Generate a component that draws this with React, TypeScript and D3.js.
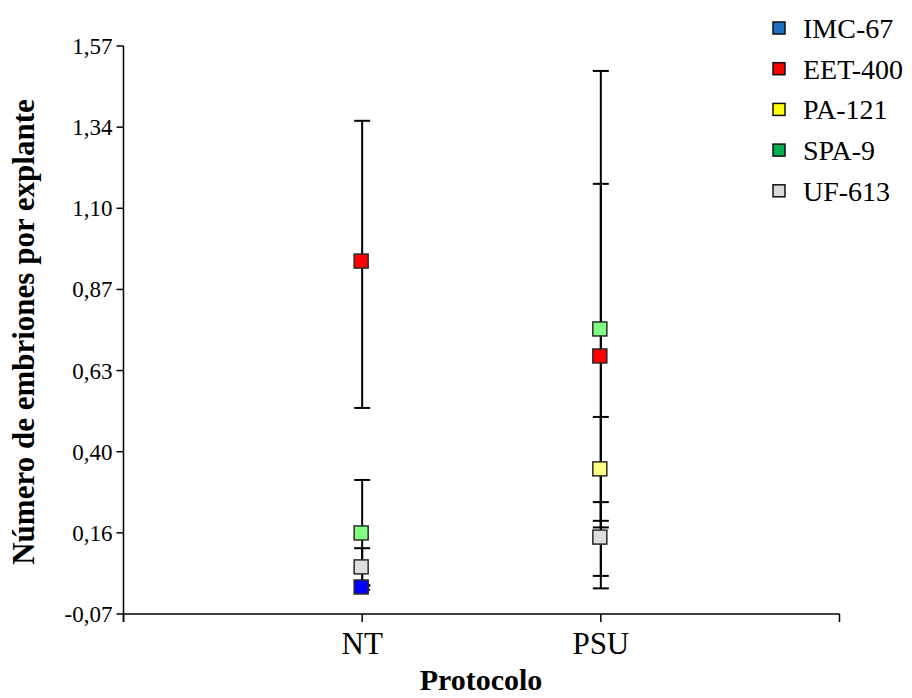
import React from "react";
import * as d3 from "d3";

const categories = ["NT", "PSU"];
const seriesNames = ["IMC-67", "EET-400", "PA-121", "SPA-9", "UF-613"];
const legendColors = ["#1f6fc0", "#ff0000", "#ffff00", "#00b050", "#d9d9d9"];
const markerColors = ["#0000ff", "#ff0000", "#ffff80", "#80ff80", "#dddddd"];

const ntMeans = [0.008, 0.949, null, 0.164, 0.066];
const ntLower = [0.0, 0.525, null, 0.011, 0.012];
const ntUpper = [0.014, 1.354, null, 0.317, 0.12];
const psuMeans = [null, 0.675, 0.349, 0.753, 0.152];
const psuLower = [null, 0.18, 0.199, 0.004, 0.04];
const psuUpper = [null, 1.172, 0.499, 1.498, 0.253];

const yDomain = [-0.07, 1.57];
const yTickCount = 7;

export default function App() {
  const W = 912, H = 698;
  const left = 123.5, right = 839.5, top = 46, bottom = 614;
  const x = d3.scaleLinear().domain([0, 3]).range([left, right]);
  const y = d3.scaleLinear().domain(yDomain).range([bottom, top]);
  const yTicks = d3.range(yTickCount + 1).map(
    (i) => yDomain[0] + ((yDomain[1] - yDomain[0]) * i) / yTickCount
  );
  const fmt = (v: number) => d3.format(".2f")(v).replace(".", ",").replace("−", "-");

  const groups = [
    { ci: 0, means: ntMeans, lo: ntLower, hi: ntUpper },
    { ci: 1, means: psuMeans, lo: psuLower, hi: psuUpper },
  ];
  const order = [1, 3, 2, 4, 0];
  const capW = 16, ms = 14;
  const font = "Liberation Serif, Times New Roman, Times, Tinos, DejaVu Serif, serif";

  return (
    <svg width={W} height={H} style={{ position: "absolute", left: 0, top: 0, fontFamily: font }}>
      <rect width={W} height={H} fill="#fff" />
      <line x1={left} x2={left} y1={top} y2={bottom + 8} stroke="#000" strokeWidth={1.5} />
      {yTicks.map((t, i) => (
        <g key={i}>
          <line x1={left - 7} x2={left} y1={y(t)} y2={y(t)} stroke="#000" strokeWidth={1.5} />
          <text x={left - 11} y={y(t)} dy="0.35em" textAnchor="end" fontSize={23} style={{ fontFamily: font }}>
            {fmt(t)}
          </text>
        </g>
      ))}
      <line x1={left} x2={right} y1={bottom} y2={bottom} stroke="#000" strokeWidth={1.5} />
      {[0, 1, 2, 3].map((t) => (
        <line key={t} x1={x(t)} x2={x(t)} y1={bottom} y2={bottom + 8} stroke="#000" strokeWidth={1.5} />
      ))}
      {categories.map((c, i) => (
        <text key={c} x={x(i + 1)} y={654} textAnchor="middle" fontSize={31} style={{ fontFamily: font }}>
          {c}
        </text>
      ))}
      <text x={481} y={690} textAnchor="middle" fontSize={30} fontWeight="bold" style={{ fontFamily: font }}>
        Protocolo
      </text>
      <text
        transform={`translate(34, ${332}) rotate(-90)`}
        textAnchor="middle"
        fontSize={31}
        fontWeight="bold"
        style={{ fontFamily: font }}
      >
        Número de embriones por explante
      </text>
      {groups.map((g) =>
        order.map((s) => {
          if (g.means[s] == null) return null;
          const cx = x(g.ci + 1);
          return (
            <g key={`e${g.ci}-${s}`} stroke="#000" strokeWidth={2}>
              <line x1={cx} x2={cx} y1={y(g.lo[s] as number)} y2={y(g.hi[s] as number)} />
              <line x1={cx - capW / 2} x2={cx + capW / 2} y1={y(g.lo[s] as number)} y2={y(g.lo[s] as number)} />
              <line x1={cx - capW / 2} x2={cx + capW / 2} y1={y(g.hi[s] as number)} y2={y(g.hi[s] as number)} />
            </g>
          );
        })
      )}
      {groups.map((g) =>
        order.map((s) => {
          if (g.means[s] == null) return null;
          const cx = x(g.ci + 1);
          return (
            <rect
              key={`m${g.ci}-${s}`}
              x={cx - ms / 2 - 1}
              y={y(g.means[s] as number) - ms / 2}
              width={ms}
              height={ms}
              fill={markerColors[s]}
              stroke="#2a2a2a"
              strokeWidth={1.5}
            />
          );
        })
      )}
      {seriesNames.map((n, i) => (
        <g key={n} transform={`translate(0, ${28 + i * 40.7})`}>
          <rect x={773} y={-6} width={12} height={12} fill={legendColors[i]} stroke="#111" strokeWidth={1.5} />
          <text x={803} y={0} dy="0.35em" fontSize={28} style={{ fontFamily: font }}>
            {n}
          </text>
        </g>
      ))}
    </svg>
  );
}
